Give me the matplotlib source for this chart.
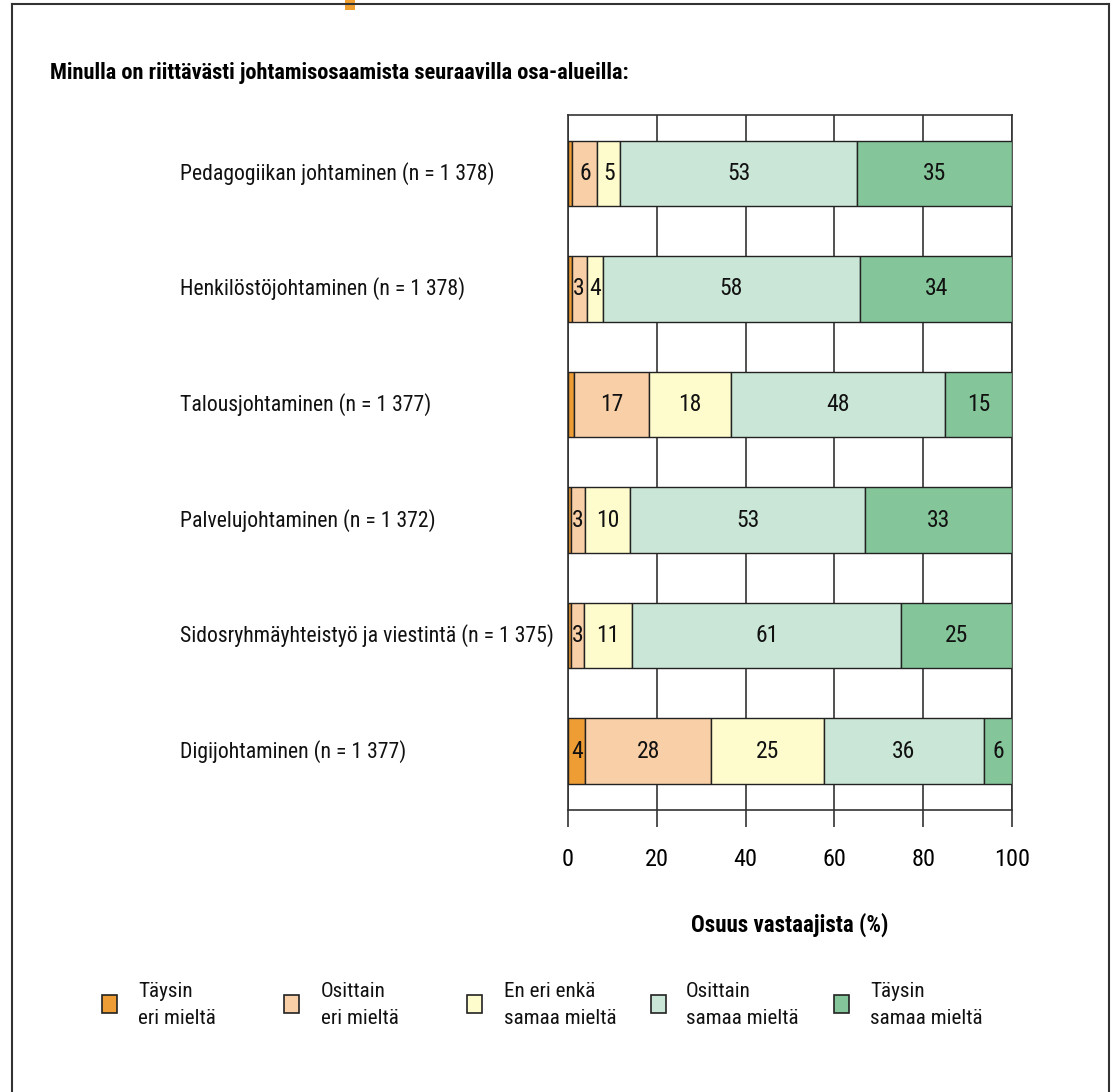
import matplotlib
matplotlib.use("Agg")
import matplotlib.pyplot as plt
import matplotlib.transforms as mtransforms
from matplotlib import font_manager
from matplotlib.patches import Rectangle
from matplotlib.lines import Line2D
import numpy as np

# pick a condensed sans font if one is installed
narrow = None
names = sorted({f.name for f in font_manager.fontManager.ttflist})
for pref in ["Liberation Sans Narrow", "Arial Narrow", "Roboto Condensed", "Open Sans Condensed",
             "Noto Sans Condensed", "DejaVu Sans Condensed"]:
    if pref in names:
        narrow = pref
        break
if narrow is None:
    for n in names:
        if ("Narrow" in n or "Condensed" in n) and "Mono" not in n and "Serif" not in n:
            narrow = n
            break
stretch_kw = {}
if narrow is None:
    for f in font_manager.fontManager.ttflist:
        st = f.stretch
        if isinstance(st, str) and "condensed" in st and "Serif" not in f.name and "Mono" not in f.name:
            narrow = f.name
            stretch_kw = {"fontstretch": st}
            break
fam = [narrow, "Liberation Sans", "DejaVu Sans"] if narrow else ["Liberation Sans", "DejaVu Sans"]
plt.rcParams['font.family'] = fam
k = 1.0 if narrow else 0.86

title = "Minulla on riittävästi johtamisosaamista seuraavilla osa-alueilla:"
categories = [
    "Pedagogiikan johtaminen (n = 1 378)",
    "Henkilöstöjohtaminen (n = 1 378)",
    "Talousjohtaminen (n = 1 377)",
    "Palvelujohtaminen (n = 1 372)",
    "Sidosryhmäyhteistyö ja viestintä (n = 1 375)",
    "Digijohtaminen (n = 1 377)",
]
series_names = ["Täysin\neri mieltä", "Osittain\neri mieltä", "En eri enkä\nsamaa mieltä",
                "Osittain\nsamaa mieltä", "Täysin\nsamaa mieltä"]
taysin_eri = [1.0, 0.8, 1.3, 0.7, 0.6, 3.9]
osittain_eri = [5.6, 3.4, 17.0, 3.1, 3.1, 28.4]
neutraali = [5.2, 3.6, 18.3, 10.2, 10.7, 25.3]
osittain_samaa = [53.4, 58.0, 48.2, 52.9, 60.7, 36.1]
taysin_samaa = [34.8, 34.2, 15.2, 33.1, 24.9, 6.3]
series = [taysin_eri, osittain_eri, neutraali, osittain_samaa, taysin_samaa]
colors = ["#EE9C34", "#F8CFA6", "#FEFBCC", "#C9E6D6", "#85C59A"]
xticks = [0, 20, 40, 60, 80, 100]
xlabel = "Osuus vastaajista (%)"

W, H = 1114, 1092
fig = plt.figure(figsize=(W / 100, H / 100), dpi=100)

def fx(px):
    return px / W

def fy(py):
    return 1 - py / H

ax = fig.add_axes([fx(568), fy(810), fx(1012) - fx(568), fy(115) - fy(810)])

y = np.arange(len(categories))
left = np.zeros(len(categories))
for vals, col in zip(series, colors):
    vals = np.array(vals)
    ax.barh(y, vals, left=left, height=0.565, color=col, edgecolor="#222222",
            linewidth=1.0, zorder=3)
    for yi, l, v in zip(y, left, vals):
        if round(v) >= 3:
            ax.text(l + v / 2, yi, f"{v:.0f}", ha="center", va="center",
                    fontsize=17 * k, color="#111111", zorder=4, **stretch_kw)
    left = left + vals

ax.set_xlim(0, 100)
ax.set_ylim(5.51, -0.506)
ax.set_yticks([])
ax.set_xticks(xticks)
ax.set_xticklabels([str(t) for t in xticks], fontsize=17.5 * k, **stretch_kw)
ax.tick_params(axis="x", length=12, width=1.2, pad=15, color="#333333")
for sp in ax.spines.values():
    sp.set_color("#333333")
    sp.set_linewidth(1.2)
ax.xaxis.grid(True, color="#333333", linewidth=1.2, zorder=0)
ax.set_axisbelow(True)

# category labels
trans = mtransforms.blended_transform_factory(fig.transFigure, ax.transData)
for yi, c in zip(y, categories):
    ax.text(fx(180), yi, c, transform=trans, ha="left", va="center", fontsize=15.7 * k,
            color="#111111", **stretch_kw)

fig.text(fx(790), fy(925), xlabel, ha="center", va="center", fontsize=16.5 * k, fontweight="bold",
         **stretch_kw)
fig.text(fx(50), fy(73), title, ha="left", va="center", fontsize=16.1 * k, fontweight="bold",
         **stretch_kw)

# legend
sq_x = [102, 284, 467, 651, 834]
txt_x = [138, 321, 504, 686, 870]
for sx, tx, name, col in zip(sq_x, txt_x, series_names, colors):
    fig.patches.append(Rectangle((fx(sx), fy(1013)), fx(15), fy(995) - fy(1013), facecolor=col,
                                 edgecolor="#222222", linewidth=1.2, transform=fig.transFigure))
    fig.text(fx(tx), fy(1005), name, ha="left", va="center", fontsize=15.2 * k, linespacing=1.55,
             color="#111111", **stretch_kw)

# frame around figure
fig.add_artist(Line2D([fx(12), fx(1109)], [fy(4), fy(4)], color="#333333", lw=1.5, transform=fig.transFigure))
fig.add_artist(Line2D([fx(12), fx(12)], [fy(4), fy(1092)], color="#333333", lw=1.5, transform=fig.transFigure))
fig.add_artist(Line2D([fx(1109), fx(1109)], [fy(4), fy(1092)], color="#333333", lw=1.5, transform=fig.transFigure))
fig.patches.append(Rectangle((fx(345), fy(10)), fx(10), fy(0) - fy(10), facecolor="#F0A030",
                             edgecolor="none", transform=fig.transFigure))

fig.savefig("out.png", dpi=100)
